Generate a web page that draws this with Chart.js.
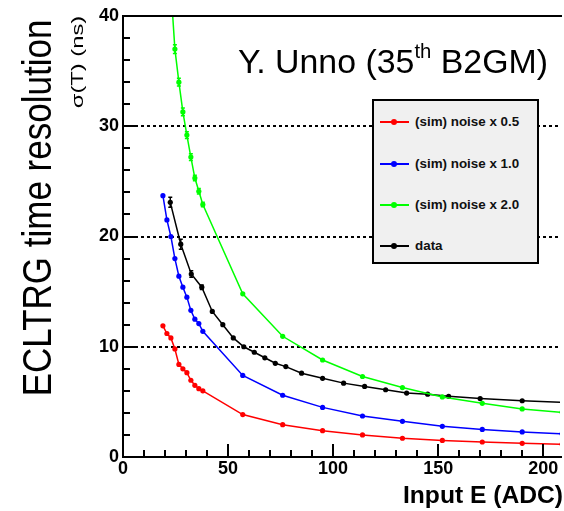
<!DOCTYPE html>
<html>
<head>
<meta charset="utf-8">
<script src="https://cdn.jsdelivr.net/npm/chart.js@4.4.1/dist/chart.umd.min.js"></script>
<style>
  html, body { margin: 0; padding: 0; background: #fff; }
  #wrap { position: relative; width: 564px; height: 511px; overflow: hidden; font-family: "Liberation Sans", Arial, sans-serif; }
  #c { position: absolute; left: 0; top: 0; }
  .lab { position: absolute; white-space: nowrap; line-height: 1; color: #000; }
  .rot { transform-origin: 50% 50%; }
  #legend { position: absolute; left: 372px; top: 99px; width: 167px; height: 165px; box-sizing: border-box;
            background: #f0f0f0; border: 2px solid #000; }
  .row { position: absolute; left: 4px; height: 16px; }
  .row .ln { position: absolute; left: 2px; top: 7px; width: 29px; height: 2px; }
  .row .dot { position: absolute; left: 13px; top: 5px; width: 6px; height: 6px; border-radius: 50%; }
  .row .tx { position: absolute; left: 37px; top: 0; font-size: 13.4px; font-weight: bold; color: #111; white-space: nowrap; line-height: 16px; }
</style>
</head>
<body>
<div id="wrap">
  <canvas id="c" width="564" height="511"></canvas>
  <div class="lab rot" id="ytitle" style="font-size:40px;">ECLTRG time resolution</div>
  <div class="lab rot" id="yunit" style="font-size:17px;">&sigma;(T) (ns)</div>
  <div class="lab" id="note" style="font-size:33px;">Y. Unno (35<sup style="font-size:0.6em;vertical-align:0.75em;">th</sup> B2GM)</div>
  <div class="lab" id="xtitle" style="font-size:24px;font-weight:bold;">Input E (ADC)</div>
  <div id="legend"></div>
</div>
<script>
// simulated points share the same energies
const simE = [19, 20.9, 22.8, 24.7, 26.6, 28.5, 30.4, 32.3, 34.2, 36.1, 38, 57, 76, 95, 114, 133, 152, 171, 190, 209];
const noise05 = [11.9, 11.2, 10.8, 9.8, 8.4, 8.0, 7.65, 6.96, 6.5, 6.2, 6.0, 3.85, 2.93, 2.39, 2.0, 1.7, 1.5, 1.36, 1.24, 1.15];
const noise10 = [23.7, 21.5, 20.0, 18.0, 16.4, 15.4, 14.5, 13.3, 12.5, 12.1, 11.4, 7.4, 5.6, 4.5, 3.72, 3.24, 2.78, 2.5, 2.27, 2.1];
const noise20 = [50, 46, 42.5, 37.0, 34.0, 31.3, 29.2, 27.2, 25.3, 24.1, 22.9, 14.8, 10.95, 8.8, 7.3, 6.3, 5.45, 4.87, 4.36, 4.05];
const noise20Err = [0, 0, 0, 0.4, 0.35, 0.35, 0.3, 0.3, 0.25, 0.25, 0.2, 0, 0, 0, 0, 0, 0, 0, 0, 0];

const dataE = [22.5, 27.5, 32.5, 37.5, 42.5, 47.5, 52.5, 57.5, 62.5, 67.5, 72.5, 77.5, 85, 95, 105, 115, 125, 135, 145, 155, 170, 190, 210];
const dataSigma = [23.1, 19.3, 16.6, 15.4, 13.2, 12.0, 10.8, 10.0, 9.5, 9.0, 8.5, 8.2, 7.6, 7.14, 6.7, 6.4, 6.1, 5.8, 5.7, 5.5, 5.3, 5.1, 4.95];
const dataErr = [0.45, 0.45, 0.3, 0.2, 0, 0, 0, 0, 0, 0, 0, 0, 0, 0, 0, 0, 0, 0, 0, 0, 0, 0, 0];

const seriesLabels = ['(sim) noise x 0.5', '(sim) noise x 1.0', '(sim) noise x 2.0', 'data'];
const seriesColors = ['#ff0000', '#0000ff', '#00ff00', '#000000'];

const xMin = 0, xMax = 208, xStep = 50, xMinor = 10;
const yMin = 0, yMax = 40, yStep = 10, yMinor = 2;
const gridValues = [10, 20, 30];

function pts(xs, ys) { return xs.map((x, i) => ({ x: x, y: ys[i] })); }

function ds(i, data, err) {
    return {
        label: seriesLabels[i],
        data: data,
        errors: err,
        borderColor: seriesColors[i],
        backgroundColor: seriesColors[i],
        borderWidth: 1.5,
        pointRadius: 2.6,
        pointBorderWidth: 0,
        tension: 0
    };
}

// ROOT-style frame: inner ticks, dotted grid, error bars
const frame = {
    id: 'frame',
    beforeDatasetsDraw(chart) {
        const { ctx, chartArea: a, scales: { y } } = chart;
        ctx.save();
        ctx.strokeStyle = '#000';
        ctx.lineWidth = 2;
        ctx.setLineDash([3, 3]);
        gridValues.forEach(v => {
            const py = Math.round(y.getPixelForValue(v));
            ctx.beginPath(); ctx.moveTo(a.left, py); ctx.lineTo(a.right, py); ctx.stroke();
        });
        ctx.setLineDash([]);
        ctx.restore();
    },
    afterDatasetsDraw(chart) {
        const { ctx, chartArea: a, scales: { x, y } } = chart;
        ctx.save();
        // error bars
        chart.data.datasets.forEach((d, di) => {
            if (!d.errors) return;
            const meta = chart.getDatasetMeta(di);
            ctx.strokeStyle = d.borderColor;
            ctx.lineWidth = 1.5;
            d.data.forEach((p, i) => {
                const e = d.errors[i];
                if (!e || p.y > yMax) return;
                const px = meta.data[i].x;
                const y1 = y.getPixelForValue(p.y - e), y2 = y.getPixelForValue(p.y + e);
                ctx.beginPath();
                ctx.moveTo(px, y1); ctx.lineTo(px, y2);
                ctx.moveTo(px - 2, y1); ctx.lineTo(px + 2, y1);
                ctx.moveTo(px - 2, y2); ctx.lineTo(px + 2, y2);
                ctx.stroke();
            });
        });
        // frame
        ctx.strokeStyle = '#000';
        ctx.lineWidth = 2;
        ctx.beginPath();
        ctx.moveTo(a.right + 2, a.top); ctx.lineTo(a.left, a.top); ctx.lineTo(a.left, a.bottom); ctx.lineTo(a.right + 2, a.bottom);
        ctx.stroke();
        // inner ticks
        ctx.beginPath();
        for (let v = yMin; v <= yMax; v += yMinor) {
            const py = Math.round(y.getPixelForValue(v));
            const len = v % yStep === 0 ? 14 : 7;
            ctx.moveTo(a.left, py); ctx.lineTo(a.left + len, py);
        }
        for (let v = xMin; v <= xMax; v += xMinor) {
            const px = Math.round(x.getPixelForValue(v));
            const len = v % xStep === 0 ? 13 : 7;
            ctx.moveTo(px, a.bottom); ctx.lineTo(px, a.bottom - len);
        }
        ctx.stroke();
        ctx.restore();
    }
};

const tickFont = { family: '"Liberation Sans", Arial, sans-serif', size: 18, weight: 'bold' };

const chart = new Chart(document.getElementById('c').getContext('2d'), {
    type: 'line',
    data: {
        datasets: [
            ds(0, pts(simE, noise05)),
            ds(1, pts(simE, noise10)),
            ds(2, pts(simE, noise20), noise20Err),
            ds(3, pts(dataE, dataSigma), dataErr)
        ]
    },
    options: {
        responsive: false,
        animation: false,
        layout: { padding: { left: 0, right: 0, top: 16, bottom: 0 } },
        plugins: { legend: { display: false }, tooltip: { enabled: false } },
        scales: {
            x: {
                type: 'linear', min: xMin, max: xMax,
                grid: { display: false, drawTicks: false },
                border: { display: false },
                ticks: { stepSize: xStep, includeBounds: false, padding: 1, maxRotation: 0, color: '#000', font: tickFont },
                afterFit: s => { s.height = 54; }
            },
            y: {
                type: 'linear', min: yMin, max: yMax,
                grid: { display: false, drawTicks: false },
                border: { display: false },
                ticks: { stepSize: yStep, padding: 4, color: '#000', font: tickFont },
                afterFit: s => { s.width = 123; }
            }
        }
    },
    plugins: [frame]
});

// legend box
const legend = document.getElementById('legend');
const rowTops = [13, 55, 96, 137];
seriesLabels.forEach((t, i) => {
    const r = document.createElement('div');
    r.className = 'row';
    r.style.top = rowTops[i] + 'px';
    r.innerHTML = '<div class="ln" style="background:' + seriesColors[i] + '"></div>' +
                  '<div class="dot" style="background:' + seriesColors[i] + '"></div>' +
                  '<div class="tx">' + t + '</div>';
    legend.appendChild(r);
});

// place text labels
function place(id, cx, cy, len, rotated) {
    const el = document.getElementById(id);
    const w = el.offsetWidth;
    const k = len / w;
    el.style.left = cx + 'px';
    el.style.top = cy + 'px';
    el.style.transform = 'translate(-50%,-50%)' + (rotated ? ' rotate(-90deg)' : '') + ' scaleX(' + k.toFixed(3) + ')';
}
place('ytitle', 37, 208, 377, true);
place('yunit', 77, 62, 92, true);
place('note', 393, 60, 310, false);
place('xtitle', 483, 495, 160, false);
</script>
</body>
</html>
